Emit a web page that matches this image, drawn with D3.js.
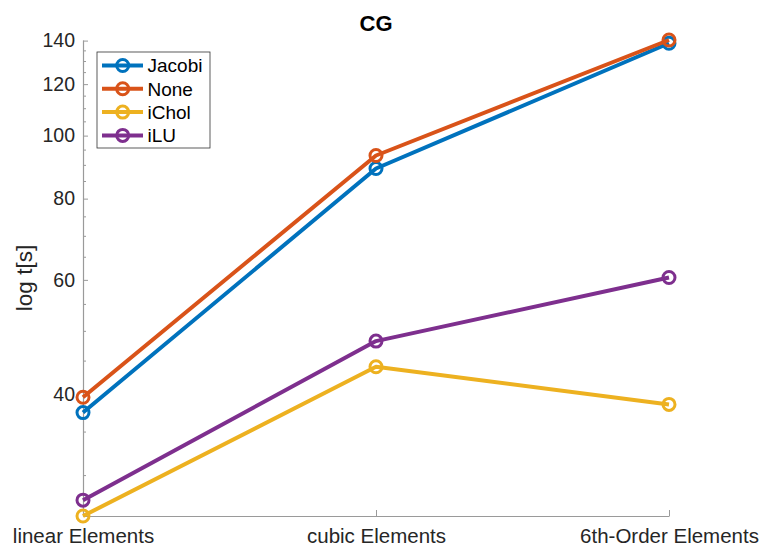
<!DOCTYPE html>
<html>
<head>
<meta charset="utf-8">
<script src="https://cdn.jsdelivr.net/npm/d3@7"></script>
<style>
  html, body { margin: 0; padding: 0; background: #fff; }
  svg { display: block; font-family: "Liberation Sans", Arial, Helvetica, sans-serif; }
</style>
</head>
<body>
<svg id="chart" width="762" height="547"></svg>
<script>
// Solve time of the CG solver for each preconditioner, by element order
const categories = ["linear Elements", "cubic Elements", "6th-Order Elements"];
const seriesNames = ["Jacobi", "None", "iChol", "iLU"];
const jacobi = [37.5, 89.0, 138.7];
const none = [39.6, 93.2, 140.3];
const ichol = [26.0, 44.1, 38.6];
const ilu = [27.5, 48.3, 60.5];
const yMajorTicks = [40, 60, 80, 100, 120, 140];
const yMinorTicks = [30, 35, 45, 50, 55, 65, 70, 75, 85, 90, 95, 105, 110, 115, 125, 130, 135];
const colors = ["#0072BD", "#D95319", "#EDB120", "#7E2F8E"];

const series = seriesNames.map((name, i) => ({
  name,
  values: [jacobi, none, ichol, ilu][i],
  color: colors[i]
}));

const svg = d3.select("#chart");
const plotLeft = 83, plotRight = 669, plotTop = 40, plotBottom = 516;

const x = d3.scalePoint().domain(categories).range([plotLeft, plotRight]);
const allValues = series.flatMap(s => s.values);
const y = d3.scaleLog().domain(d3.extent(allValues)).range([plotBottom, plotTop]);

const axisColor = "#9a9a9a";
const textColor = "#262626";

// Y axis: ticks point inward
const yAxis = svg.append("g").attr("transform", `translate(${plotLeft},0)`);
yAxis.call(d3.axisLeft(y).tickValues(yMajorTicks).tickFormat(d3.format("d")).tickSize(-5).tickSizeOuter(0));
yAxis.select(".domain").attr("stroke", axisColor).attr("stroke-width", 1.2);
yAxis.selectAll(".tick line").attr("stroke", axisColor);
yAxis.selectAll(".tick text")
  .attr("x", -8).attr("fill", textColor).attr("font-size", 19.5);
yAxis.selectAll(".minor").data(yMinorTicks).enter().append("line")
  .attr("class", "minor")
  .attr("x1", 0).attr("x2", 3)
  .attr("y1", d => y(d)).attr("y2", d => y(d))
  .attr("stroke", axisColor);

// X axis
const xAxis = svg.append("g").attr("transform", `translate(0,${plotBottom})`);
xAxis.call(d3.axisBottom(x).tickSize(-6).tickSizeOuter(0));
xAxis.select(".domain").attr("stroke", axisColor).attr("stroke-width", 1.2);
xAxis.selectAll(".tick line").attr("stroke", axisColor);
xAxis.selectAll(".tick text")
  .attr("y", 12).attr("fill", textColor).attr("font-size", 20.5);

// Title and axis label
svg.append("text")
  .attr("x", (plotLeft + plotRight) / 2).attr("y", 31)
  .attr("text-anchor", "middle").attr("font-weight", "bold")
  .attr("font-size", 22).attr("fill", "#000")
  .text("CG");

svg.append("text")
  .attr("transform", `translate(32,${(plotTop + plotBottom) / 2}) rotate(-90)`)
  .attr("text-anchor", "middle")
  .attr("font-size", 22.5).attr("fill", textColor)
  .text("log t[s]");

// Lines with circle markers
const line = d3.line()
  .x((d, i) => x(categories[i]))
  .y(d => y(d));

series.forEach(s => {
  svg.append("path")
    .datum(s.values)
    .attr("d", line)
    .attr("fill", "none")
    .attr("stroke", s.color)
    .attr("stroke-width", 4)
    .attr("stroke-linejoin", "round");
  svg.selectAll(null).data(s.values).enter().append("circle")
    .attr("cx", (d, i) => x(categories[i]))
    .attr("cy", d => y(d))
    .attr("r", 6)
    .attr("fill", "none")
    .attr("stroke", s.color)
    .attr("stroke-width", 3);
});

// Legend
const legend = svg.append("g").attr("transform", "translate(97,52)");
legend.append("rect")
  .attr("width", 113).attr("height", 96)
  .attr("fill", "#fff").attr("stroke", "#333").attr("stroke-width", 0.8);
series.forEach((s, i) => {
  const ly = 13.5 + i * 23.3;
  legend.append("line")
    .attr("x1", 5).attr("x2", 46).attr("y1", ly).attr("y2", ly)
    .attr("stroke", s.color).attr("stroke-width", 4);
  legend.append("circle")
    .attr("cx", 25.7).attr("cy", ly).attr("r", 6)
    .attr("fill", "none").attr("stroke", s.color).attr("stroke-width", 3);
  legend.append("text")
    .attr("x", 50.5).attr("y", ly).attr("dy", "0.36em")
    .attr("font-size", 19).attr("fill", "#000")
    .text(s.name);
});
</script>
</body>
</html>
